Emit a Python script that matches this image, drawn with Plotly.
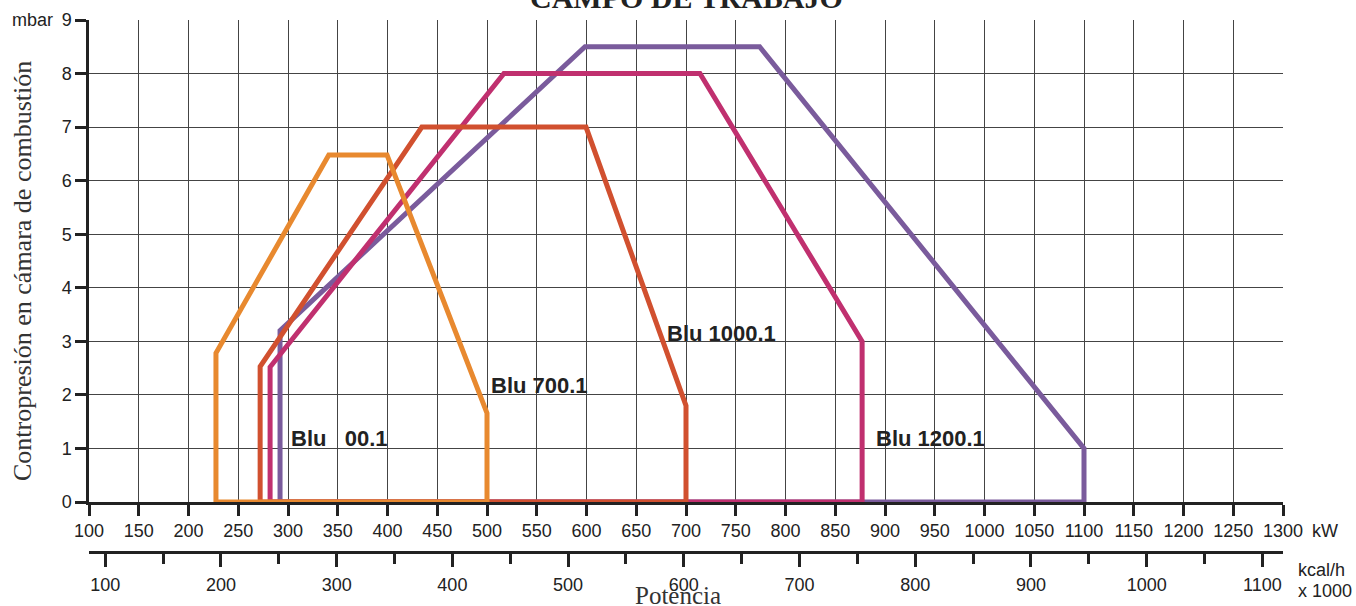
import plotly.graph_objects as go

# ---------------- data ----------------
kw_ticks = list(range(100, 1301, 50))
mbar_ticks = list(range(0, 10))
kcal_ticks = list(range(100, 1101, 100))
KW_PER_KCAL1000 = 1.163  # 1000 kcal/h = 1.163 kW

blu500_kw = [227.6, 227.6, 341.0, 399.5, 500.0, 500.0, 227.6]
blu500_mbar = [0.0, 2.78, 6.48, 6.48, 1.66, 0.0, 0.0]

blu700_kw = [272.0, 272.0, 434.5, 599.5, 700.0, 700.0, 272.0]
blu700_mbar = [0.0, 2.53, 7.0, 7.0, 1.8, 0.0, 0.0]

blu1000_kw = [282.0, 282.0, 517.0, 714.0, 877.0, 877.0, 282.0]
blu1000_mbar = [0.0, 2.52, 8.0, 8.0, 3.0, 0.0, 0.0]

blu1200_kw = [292.0, 292.0, 598.5, 774.0, 1100.0, 1100.0, 292.0]
blu1200_mbar = [0.0, 3.2, 8.5, 8.5, 1.0, 0.0, 0.0]

series_names = ["Blu 1200.1", "Blu 1000.1", "Blu 700.1", "Blu   00.1"]
series_x = [blu1200_kw, blu1000_kw, blu700_kw, blu500_kw]
series_y = [blu1200_mbar, blu1000_mbar, blu700_mbar, blu500_mbar]

label_texts = ["Blu   00.1", "Blu 700.1", "Blu 1000.1", "Blu 1200.1"]
label_kw = [301, 502, 679, 889]
label_mbar = [1.18, 2.18, 3.14, 1.18]

# ---------------- styles ----------------
colors = ["#7A5B9C", "#C0306F", "#D1502F", "#E8892F"]
AX = "#222222"
GRID = "#444444"
SANS = "Liberation Sans, Arial, sans-serif"
SERIF = "Liberation Serif, Times New Roman, serif"

fig = go.Figure()
for name, xs, ys, c in zip(series_names, series_x, series_y, colors):
    fig.add_trace(go.Scatter(x=xs, y=ys, mode="lines", name=name,
                             line=dict(color=c, width=5),
                             cliponaxis=False, showlegend=False,
                             hoverinfo="skip"))

# invisible helper trace on the kcal/h axis
fig.add_trace(go.Scatter(x=kcal_ticks, y=[0] * len(kcal_ticks), xaxis="x2", yaxis="y",
                         mode="markers", marker=dict(opacity=0), showlegend=False,
                         hoverinfo="skip"))

for t, x, y in zip(label_texts, label_kw, label_mbar):
    fig.add_annotation(x=x, y=y, text="<b>" + t + "</b>", showarrow=False,
                       xanchor="left", yanchor="middle",
                       font=dict(family=SANS, size=22, color="#222222"))

W, H = 1356, 606
ML, MR, MT, MB = 89, 73, 20, 50
PH = H - MT - MB
plot_bottom_px = 502
dom0 = (H - MB - plot_bottom_px) / PH
kcal_axis_px = 552
kcal_pos = (H - MB - kcal_axis_px) / PH

def px_to_paper_y(py):
    return (H - MB - py) / PH

def px_to_paper_x(px):
    return (px - ML) / (W - ML - MR)

fig.update_layout(
    width=W, height=H,
    margin=dict(l=ML, r=MR, t=MT, b=MB, autoexpand=False),
    paper_bgcolor="white", plot_bgcolor="white",
    xaxis=dict(range=[kw_ticks[0], kw_ticks[-1]], tickvals=kw_ticks,
               showgrid=True, gridcolor=GRID, gridwidth=1,
               showline=True, linecolor=AX, linewidth=2.5,
               ticks="outside", ticklen=11, tickwidth=2.5, tickcolor=AX,
               tickfont=dict(family=SANS, size=18, color="#222222"),
               zeroline=False, anchor="y"),
    yaxis=dict(range=[0, 9], tickvals=mbar_ticks, domain=[dom0, 1],
               showgrid=True, gridcolor=GRID, gridwidth=1,
               showline=True, linecolor=AX, linewidth=2.5,
               ticks="outside", ticklen=11, tickwidth=2.5, tickcolor=AX,
               tickfont=dict(family=SANS, size=18, color="#222222"),
               zeroline=False),
    xaxis2=dict(overlaying="x", anchor="free", position=kcal_pos, side="bottom",
                range=[kw_ticks[0] / KW_PER_KCAL1000, kw_ticks[-1] / KW_PER_KCAL1000],
                tickvals=kcal_ticks, showgrid=False, zeroline=False,
                showline=True, linecolor=AX, linewidth=2.5,
                ticks="outside", ticklen=13, tickwidth=2.5, tickcolor=AX,
                ticklabelstandoff=3,
                minor=dict(dtick=50, tick0=0, ticklen=10, tickwidth=2.5,
                           tickcolor=AX, ticks="outside", showgrid=False),
                tickfont=dict(family=SANS, size=18, color="#222222")),
    showlegend=False,
)

# text annotations
fig.add_annotation(xref="paper", yref="paper", x=px_to_paper_x(686), y=px_to_paper_y(-2),
                   text="<b>CAMPO DE TRABAJO</b>", showarrow=False,
                   xanchor="center", yanchor="middle",
                   font=dict(family=SERIF, size=30, color="#222222"))
fig.add_annotation(xref="paper", yref="paper", x=px_to_paper_x(22), y=px_to_paper_y(271),
                   text="Contropresión en cámara de combustión", textangle=-90,
                   showarrow=False, xanchor="center", yanchor="middle",
                   font=dict(family=SERIF, size=26, color="#333333"))
fig.add_annotation(xref="paper", yref="paper", x=px_to_paper_x(678), y=px_to_paper_y(595),
                   text="Potencia", showarrow=False, xanchor="center", yanchor="middle",
                   font=dict(family=SERIF, size=25, color="#333333"))
fig.add_annotation(xref="paper", yref="paper", x=px_to_paper_x(55), y=px_to_paper_y(20),
                   text="mbar", showarrow=False, xanchor="right", yanchor="middle",
                   font=dict(family=SANS, size=18, color="#222222"))
fig.add_annotation(xref="paper", yref="paper", x=px_to_paper_x(1310), y=px_to_paper_y(531),
                   text="kW", showarrow=False, xanchor="left", yanchor="middle",
                   font=dict(family=SANS, size=18, color="#222222"))
fig.add_annotation(xref="paper", yref="paper", x=px_to_paper_x(1296), y=px_to_paper_y(570),
                   text="kcal/h", showarrow=False, xanchor="left", yanchor="middle",
                   font=dict(family=SANS, size=18, color="#222222"))
fig.add_annotation(xref="paper", yref="paper", x=px_to_paper_x(1296), y=px_to_paper_y(591),
                   text="x 1000", showarrow=False, xanchor="left", yanchor="middle",
                   font=dict(family=SANS, size=18, color="#222222"))

fig.write_html("out.html", config={"displayModeBar": False},
               post_script="document.body.style.margin='0px';document.body.style.overflow='hidden';")
